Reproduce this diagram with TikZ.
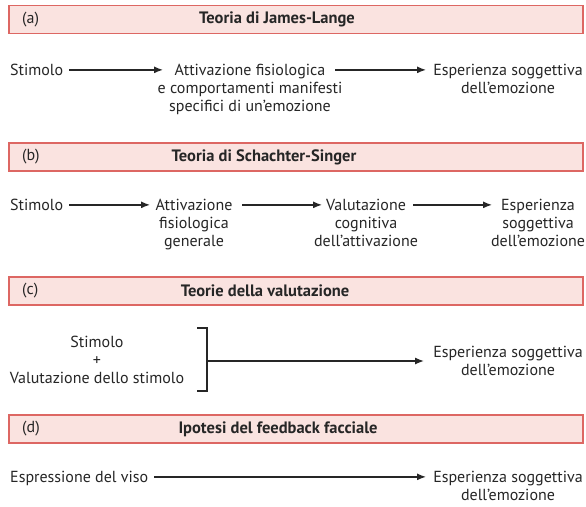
\documentclass[tikz,border=0pt]{standalone}
\usepackage{fontspec}
\setmainfont{PT Sans}
\usetikzlibrary{arrows.meta}
\definecolor{txt}{HTML}{262626}
\definecolor{hfill}{HTML}{FAE3E0}
\definecolor{hdraw}{HTML}{DD6763}
\begin{document}
\begin{tikzpicture}[x=1pt,y=-1pt,
  font=\fontsize{16}{18.3}\selectfont, text=txt,
  hdr/.style={draw=hdraw, fill=hfill, line width=1.3pt, minimum height=28pt, minimum width=574pt, inner sep=0},
  lbl/.style={inner sep=0, align=center},
  htitle/.style={font=\fontsize{16.5}{18}\selectfont\bfseries, inner sep=0},
  hlab/.style={inner sep=0, anchor=west},
  arr/.style={draw=txt, line width=1.3pt, -{Latex[length=9pt,width=7pt]}},
  brk/.style={draw=txt, line width=1.3pt}]
\useasboundingbox (0,0) rectangle (586,506);
\fill[white] (0,0) rectangle (586,506);
% (a)
\node[hdr] (ha) at (296,19.5) {};
\node[hlab] (la) at (22,19.5) {(a)};
\node[htitle] (ta) at (277,19.5) {Teoria di James-Lange};
\node[lbl, anchor=north west] (sA) at (10,62) {\strut Stimolo};
\node[lbl, anchor=north] (mA) at (250,62) {\strut Attivazione fisiologica\\e comportamenti manifesti\\specifici di un'emozione};
\node[lbl, anchor=north] (eA) at (508,62) {\strut Esperienza soggettiva\\dell'emozione};
\coordinate (ya) at ([yshift=1.5pt]sA.east);
\draw[arr] ([xshift=6pt]ya) -- ([xshift=-87pt]mA.north |- ya);
\draw[arr] ([xshift=85pt]mA.north |- ya) -- ([xshift=-82pt]eA.north |- ya);
% (b)
\node[hdr] (hb) at (296,157) {};
\node[hlab] (lb) at (22,157) {(b)};
\node[htitle] (tb) at (264,157) {Teoria di Schachter-Singer};
\node[lbl, anchor=north west] (sB) at (10,197) {\strut Stimolo};
\node[lbl, anchor=north] (mB1) at (194,197) {\strut Attivazione\\fisiologica\\generale};
\node[lbl, anchor=north] (mB2) at (366,197) {\strut Valutazione\\cognitiva\\dell'attivazione};
\node[lbl, anchor=north] (eB) at (538,197) {\strut Esperienza\\soggettiva\\dell'emozione};
\coordinate (yb) at ([yshift=1.5pt]sB.east);
\draw[arr] ([xshift=6pt]yb) -- ([xshift=-44pt]mB1.north |- yb);
\draw[arr] ([xshift=48pt]mB1.north |- yb) -- ([xshift=-44pt]mB2.north |- yb);
\draw[arr] ([xshift=47pt]mB2.north |- yb) -- ([xshift=-46pt]eB.north |- yb);
% (c)
\node[hdr] (hc) at (296,291) {};
\node[hlab] (lc) at (22,291) {(c)};
\node[htitle] (tc) at (265,291) {Teorie della valutazione};
\node[lbl, anchor=north] (mC) at (97,334) {\strut Stimolo\\+\\Valutazione dello stimolo};
\coordinate (bt) at (207,328);
\coordinate (bb) at (207,391);
\coordinate (bm) at (207,361);
\draw[brk] ([xshift=-10pt]bt) -- (bt) -- (bb) -- ([xshift=-10pt]bb);
\node[lbl, anchor=north] (eC) at (508,344) {\strut Esperienza soggettiva\\dell'emozione};
\draw[arr] (bm) -- ([xshift=-84pt]eC.north |- bm);
% (d)
\node[hdr] (hd) at (296,429) {};
\node[hlab] (ld) at (22,429) {(d)};
\node[htitle] (td) at (278,429) {Ipotesi del feedback facciale};
\node[lbl, anchor=north west] (sD) at (10,469) {\strut Espressione del viso};
\node[lbl, anchor=north] (eD) at (508,469) {\strut Esperienza soggettiva\\dell'emozione};
\coordinate (yd) at ([yshift=1.5pt]sD.east);
\draw[arr] ([xshift=6pt]yd) -- ([xshift=-82pt]eD.north |- yd);
\end{tikzpicture}
\end{document}
